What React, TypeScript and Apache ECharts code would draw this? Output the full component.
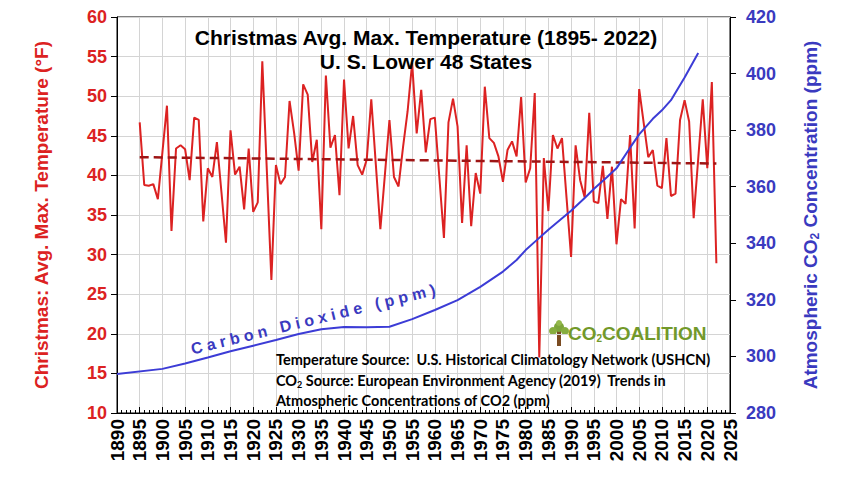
import React, { useEffect, useRef } from "react";
import * as echarts from "echarts";

// Christmas-day average maximum temperature, U.S. lower 48, 1895–2022 (°F)
const firstYear = 1895;
const christmasTemps = [
  46.7, 38.8, 38.7, 38.9, 37.0, 42.9, 48.8, 33.0, 43.4, 43.8,
  43.3, 39.4, 47.3, 47.0, 34.2, 40.9, 39.8, 44.2, 37.9, 31.5,
  45.7, 40.1, 41.1, 35.7, 43.4, 35.4, 36.6, 54.4, 40.6, 26.8,
  41.3, 38.9, 39.8, 49.4, 45.4, 40.6, 51.5, 50.2, 41.7, 44.5,
  33.2, 52.6, 43.5, 45.1, 37.5, 52.1, 43.4, 47.5, 41.3, 40.1,
  42.0, 49.6, 41.4, 33.2, 40.1, 47.0, 39.8, 38.6, 43.6, 48.1,
  54.2, 45.3, 50.8, 42.9, 47.1, 47.3, 39.7, 32.1, 46.7, 49.7,
  46.2, 34.0, 43.8, 33.6, 40.3, 37.7, 51.2, 44.7, 44.1, 42.4,
  39.2, 43.2, 44.3, 42.4, 49.9, 39.1, 40.9, 50.4, 17.0, 42.2,
  35.5, 45.1, 43.4, 44.7, 37.2, 29.7, 43.8, 39.4, 37.2, 47.9,
  36.7, 36.5, 41.2, 34.5, 41.1, 31.3, 37.0, 36.4, 45.1, 33.3,
  50.9, 46.6, 42.3, 43.2, 38.7, 38.4, 44.7, 37.4, 37.7, 47.0,
  49.5, 46.8, 34.6, 42.1, 49.6, 40.9, 51.8, 28.9,
];

// Linear trend end points (°F)
const trendYears = [1895, 2022];
const trendTemps = [42.3, 41.5];

// Atmospheric CO2 concentration (ppm)
const co2Years = [
  1890, 1900, 1905, 1910, 1915, 1920, 1925, 1930, 1935, 1940, 1945,
  1950, 1955, 1960, 1965, 1970, 1975, 1978, 1980, 1982, 1985, 1990,
  1993, 1995, 1998, 2000, 2003, 2005, 2008, 2010, 2012, 2015, 2018,
];
const co2Ppm = [
  293.8, 295.6, 297.5, 299.6, 301.8, 303.8, 305.8, 307.9, 309.6, 310.4, 310.3,
  310.5, 313.2, 316.4, 319.9, 324.6, 330.0, 334.1, 337.6, 340.5, 344.8, 351.5,
  356.0, 359.2, 363.5, 366.5, 373.8, 378.5, 384.0, 387.0, 390.6, 398.6, 407.3,
];

const tempTicks = { min: 10, max: 60, interval: 5 };
const co2Ticks = { min: 280, max: 420, interval: 20 };
const yearTicks = { min: 1890, max: 2025, interval: 5 };

const RED = "#dc2222";
const DARK_RED = "#9e1515";
const BLUE = "#3c3cd6";
const LABEL_BLUE = "#3a3abf";
const GREEN = "#72992a";
const ARIAL = "'Liberation Sans', Arial, sans-serif";
const NOTE_FONT = "bold 14.5px Lato, 'Noto Sans', sans-serif";

export default function App() {
  const ref = useRef<HTMLDivElement>(null);

  useEffect(() => {
    document.body.style.margin = "0";
    if (!ref.current) return;
    const chart = echarts.init(ref.current, null, { renderer: "svg" });

    const tempData = christmasTemps.map((v, i) => [firstYear + i, v]);
    const trendData = trendYears.map((y, i) => [y, trendTemps[i]]);
    const co2Data = co2Years.map((y, i) => [y, co2Ppm[i]]);

    chart.setOption({
      animation: false,
      backgroundColor: "#ffffff",
      textStyle: { fontFamily: ARIAL },
      title: {
        text: "Christmas Avg. Max. Temperature (1895- 2022)\nU. S. Lower 48 States",
        left: "center",
        top: 20,
        textStyle: {
          fontFamily: ARIAL,
          fontSize: 21,
          fontWeight: "bold",
          color: "#000",
          lineHeight: 24,
        },
      },
      grid: {
        left: 117,
        right: 122,
        top: 17,
        bottom: 66,
        show: true,
        borderColor: "#000",
        borderWidth: 1,
        containLabel: false,
      },
      xAxis: {
        type: "value",
        min: yearTicks.min,
        max: yearTicks.max,
        interval: yearTicks.interval,
        axisLine: { show: true, lineStyle: { color: "#000", width: 1 } },
        axisTick: { show: true, inside: true, length: 6, lineStyle: { color: "#000" } },
        minorTick: { show: true, splitNumber: 5, length: 3, lineStyle: { color: "#000" } },
        axisLabel: {
          rotate: 90,
          color: "#000",
          fontWeight: "bold",
          fontSize: 19,
          fontFamily: ARIAL,
          margin: 6,
          formatter: (v: number) => String(v),
        },
        splitLine: { show: true, lineStyle: { color: "#d4d4d4", width: 1 } },
      },
      yAxis: [
        {
          type: "value",
          position: "left",
          min: tempTicks.min,
          max: tempTicks.max,
          interval: tempTicks.interval,
          name: "Christmas: Avg. Max. Temperature (°F)",
          nameLocation: "middle",
          nameGap: 66,
          nameTextStyle: {
            color: RED,
            fontSize: 19,
            fontWeight: "bold",
            fontFamily: ARIAL,
          },
          axisLine: { show: true, lineStyle: { color: "#000", width: 1 } },
          axisTick: { show: true, length: 6, lineStyle: { color: "#000" } },
          axisLabel: {
            color: RED,
            fontSize: 18,
            fontWeight: "bold",
            fontFamily: ARIAL,
            margin: 10,
          },
          splitLine: { show: true, lineStyle: { color: "#d4d4d4", width: 1 } },
        },
        {
          type: "value",
          position: "right",
          min: co2Ticks.min,
          max: co2Ticks.max,
          interval: co2Ticks.interval,
          name: "{a|Atmospheric CO}{s|2}{a| Concentration (ppm)}",
          nameLocation: "middle",
          nameGap: 70,
          nameRotate: 90,
          nameTextStyle: {
            color: LABEL_BLUE,
            fontSize: 19,
            fontWeight: "bold",
            fontFamily: ARIAL,
            rich: {
              a: { color: LABEL_BLUE, fontSize: 19, fontWeight: "bold", fontFamily: ARIAL },
              s: {
                color: LABEL_BLUE,
                fontSize: 12,
                fontWeight: "bold",
                fontFamily: ARIAL,
                padding: [9, 0, 0, 0],
              },
            },
          },
          axisLine: { show: true, lineStyle: { color: "#000", width: 1 } },
          axisTick: { show: true, length: 6, lineStyle: { color: "#000" } },
          axisLabel: {
            color: LABEL_BLUE,
            fontSize: 18,
            fontWeight: "bold",
            fontFamily: ARIAL,
            margin: 16,
          },
          splitLine: { show: false },
        },
      ],
      series: [
        {
          name: "Christmas Avg. Max. Temperature",
          type: "line",
          yAxisIndex: 0,
          data: tempData,
          symbol: "none",
          lineStyle: { color: RED, width: 2 },
          z: 2,
        },
        {
          name: "Trend",
          type: "line",
          yAxisIndex: 0,
          data: trendData,
          symbol: "none",
          lineStyle: { color: DARK_RED, width: 2.5, type: [9, 5] },
          z: 3,
        },
        {
          name: "Carbon Dioxide",
          type: "line",
          yAxisIndex: 1,
          data: co2Data,
          symbol: "none",
          lineStyle: { color: BLUE, width: 2 },
          z: 4,
        },
      ],
      graphic: [
        {
          type: "text",
          x: 193,
          y: 357,
          rotation: 0.24,
          z: 10,
          style: {
            text: "C a r b o n   D i o x i d e   ( p p m )",
            fill: LABEL_BLUE,
            font: `bold 16px ${ARIAL}`,
            textVerticalAlign: "bottom",
          },
        },
        // CO2 Coalition mark: small tree and wordmark
        {
          type: "group",
          x: 549,
          y: 320,
          z: 10,
          children: [
            { type: "rect", shape: { x: 8, y: 11, width: 4, height: 15 }, style: { fill: "#7a4b22" } },
            { type: "circle", shape: { cx: 10, cy: 7, r: 5 }, style: { fill: "#7da53a" } },
            { type: "circle", shape: { cx: 4, cy: 11, r: 4 }, style: { fill: "#86ad3e" } },
            { type: "circle", shape: { cx: 16, cy: 11, r: 4 }, style: { fill: "#86ad3e" } },
            { type: "circle", shape: { cx: 10, cy: 3, r: 3 }, style: { fill: "#93b84a" } },
          ],
        },
        {
          type: "text",
          x: 568,
          y: 333,
          z: 10,
          style: {
            text: "{c|CO}{s|2}{c|COALITION}",
            textVerticalAlign: "middle",
            rich: {
              c: { fill: GREEN, font: `bold 19px ${ARIAL}` },
              s: { fill: GREEN, font: `bold 10px ${ARIAL}`, padding: [10, 0, 0, 0] },
            },
          },
        },
        {
          type: "text",
          x: 276,
          y: 359,
          z: 10,
          style: {
            text: "Temperature Source:  U.S. Historical Climatology Network (USHCN)",
            fill: "#000",
            font: NOTE_FONT,
            textVerticalAlign: "middle",
          },
        },
        {
          type: "text",
          x: 276,
          y: 380,
          z: 10,
          style: {
            text: "{t|CO}{s|2}{t| Source: European Environment Agency (2019)  Trends in}",
            textVerticalAlign: "middle",
            rich: {
              t: { fill: "#000", font: NOTE_FONT },
              s: { fill: "#000", font: "bold 9px Lato, 'Noto Sans', sans-serif", padding: [8, 0, 0, 0] },
            },
          },
        },
        {
          type: "text",
          x: 276,
          y: 400,
          z: 10,
          style: {
            text: "Atmospheric Concentrations of CO2 (ppm)",
            fill: "#000",
            font: NOTE_FONT,
            textVerticalAlign: "middle",
          },
        },
      ],
    });

    return () => chart.dispose();
  }, []);

  return <div ref={ref} style={{ width: 852, height: 479 }} />;
}
